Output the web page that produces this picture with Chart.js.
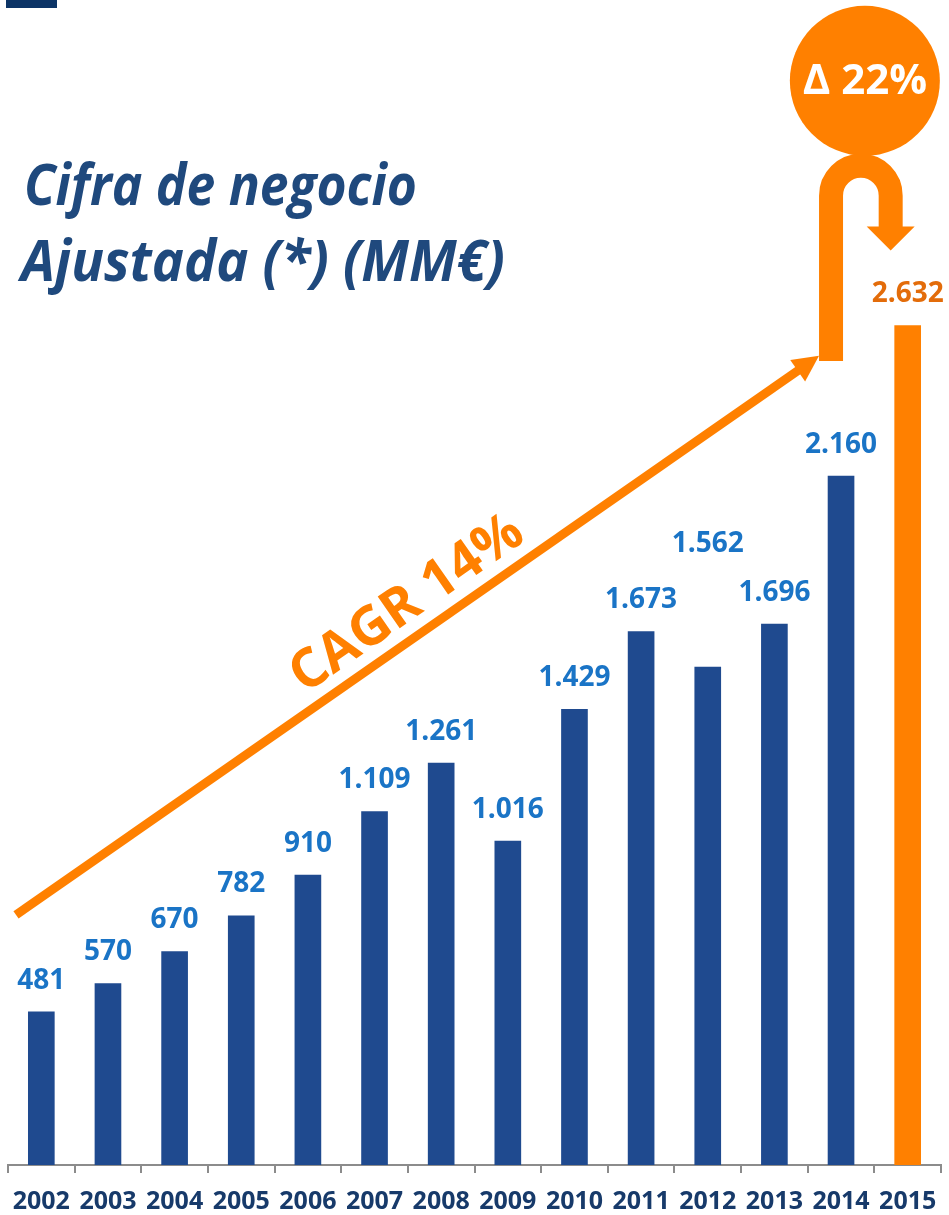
<!DOCTYPE html>
<html>
<head>
<meta charset="utf-8">
<script src="https://cdn.jsdelivr.net/npm/chart.js@4/dist/chart.umd.min.js"></script>
<style>
  html, body { margin: 0; padding: 0; background: #fff; }
  #wrap { width: 949px; height: 1215px; position: relative; }
</style>
</head>
<body>
<div id="wrap"><canvas id="chartVentas"></canvas></div>
<script>
const years = ['2002', '2003', '2004', '2005', '2006', '2007', '2008', '2009', '2010', '2011', '2012', '2013', '2014', '2015'];
const ventas = [481, 570, 670, 782, 910, 1109, 1261, 1016, 1429, 1673, 1562, 1696, 2160, 2632];
const titleLines = ['Cifra de negocio', 'Ajustada (*) (MM€)'];
const cagrText = 'CAGR 14%';
const deltaText = 'Δ 22%';

const BLUE = '#1f4a8f';
const ORANGE = '#ff8000';
const FONT = '"Open Sans", "DejaVu Sans", sans-serif';

// miles con punto, como en el original
const fmt = v => String(v).replace(/\B(?=(\d{3})+(?!\d))/g, '.');

const decoPlugin = {
  id: 'deco',
  afterDatasetsDraw(chart) {
    const ctx = chart.ctx;
    const xs = chart.scales.x, ys = chart.scales.y;
    const area = chart.chartArea;
    const bars = chart.getDatasetMeta(0).data;

    // etiquetas de valor
    ctx.save();
    ctx.font = 'bold 28px ' + FONT;
    ctx.textAlign = 'center';
    ctx.textBaseline = 'middle';
    bars.forEach((bar, i) => {
      let y = bar.y - 31;
      if (years[i] === '2012') y -= 92; // etiqueta desplazada hacia arriba en el original
      ctx.fillStyle = years[i] === '2015' ? '#e36c0a' : '#1a74c6';
      ctx.fillText(fmt(ventas[i]), bar.x, y);
    });
    ctx.restore();

    // flecha CAGR
    const x0 = area.left + 8, y0 = ys.getPixelForValue(784);
    const x1 = xs.getPixelForValue(12) - 22, y1 = ys.getPixelForValue(2536);
    const ang = Math.atan2(y1 - y0, x1 - x0);
    const headLen = 26, headW = 13;
    ctx.save();
    ctx.strokeStyle = ORANGE;
    ctx.fillStyle = ORANGE;
    ctx.lineWidth = 9;
    ctx.beginPath();
    ctx.moveTo(x0, y0);
    ctx.lineTo(x1 - Math.cos(ang) * (headLen - 2), y1 - Math.sin(ang) * (headLen - 2));
    ctx.stroke();
    ctx.translate(x1, y1);
    ctx.rotate(ang);
    ctx.beginPath();
    ctx.moveTo(0, 0);
    ctx.lineTo(-headLen, -headW);
    ctx.lineTo(-headLen, headW);
    ctx.closePath();
    ctx.fill();
    ctx.restore();

    // texto CAGR sobre la flecha
    const tx = 314, t = (tx - x0) / (x1 - x0);
    const px = x0 + (x1 - x0) * t, py = y0 + (y1 - y0) * t;
    ctx.save();
    ctx.translate(px, py);
    ctx.rotate(ang);
    ctx.font = 'bold 54px ' + FONT;
    ctx.fillStyle = ORANGE;
    ctx.textAlign = 'left';
    ctx.textBaseline = 'alphabetic';
    ctx.fillText(cagrText, 0, -16);
    ctx.restore();

    // flecha en U hacia 2015
    const lx = xs.getPixelForValue(12) - 10;
    const rx = xs.getPixelForValue(13) - 17;
    const cx = (lx + rx) / 2, r = (rx - lx) / 2;
    const legBottom = ys.getPixelForValue(2520);
    const archY = ys.getPixelForValue(3038);
    const rightEnd = ys.getPixelForValue(2938);
    const tipY = ys.getPixelForValue(2866);
    ctx.save();
    ctx.strokeStyle = ORANGE;
    ctx.fillStyle = ORANGE;
    ctx.lineWidth = 24;
    ctx.lineCap = 'butt';
    ctx.beginPath();
    ctx.moveTo(lx, legBottom);
    ctx.lineTo(lx, archY);
    ctx.arc(cx, archY, r, Math.PI, 0);
    ctx.lineTo(rx, rightEnd);
    ctx.stroke();
    ctx.beginPath();
    ctx.moveTo(rx - 24, rightEnd - 1);
    ctx.lineTo(rx + 24, rightEnd - 1);
    ctx.lineTo(rx, tipY);
    ctx.closePath();
    ctx.fill();

    // circulo delta
    const ccx = cx + 4, ccy = ys.getPixelForValue(3398);
    ctx.beginPath();
    ctx.arc(ccx, ccy, 75, 0, Math.PI * 2);
    ctx.fill();
    ctx.fillStyle = '#ffffff';
    ctx.font = 'bold 42px ' + FONT;
    ctx.textAlign = 'center';
    ctx.textBaseline = 'middle';
    ctx.fillText(deltaText, ccx, ccy + 1);
    ctx.restore();

    // titulo (cada linea ajustada al ancho del original)
    ctx.save();
    ctx.font = 'italic bold 58px ' + FONT;
    ctx.fillStyle = '#1f497d';
    ctx.textBaseline = 'alphabetic';
    const s1 = 393 / ctx.measureText(titleLines[0]).width;
    const s2 = 484 / ctx.measureText(titleLines[1]).width;
    ctx.setTransform(s1, 0, 0, 1, 24, 0);
    ctx.fillText(titleLines[0], 0, 205);
    ctx.setTransform(s2, 0, 0, 1, 21, 0);
    ctx.fillText(titleLines[1], 0, 281);
    ctx.restore();

    // marca superior izquierda
    ctx.save();
    ctx.fillStyle = '#0c3466';
    ctx.fillRect(6, 0, 51, 8);
    ctx.restore();
  }
};

const ctx = document.getElementById('chartVentas').getContext('2d');
const chart = new Chart(ctx, {
  type: 'bar',
  data: {
    labels: years,
    datasets: [{
      data: ventas,
      backgroundColor: years.map(y => y === '2015' ? ORANGE : BLUE),
      categoryPercentage: 1,
      barPercentage: 0.4
    }]
  },
  options: {
    responsive: true,
    maintainAspectRatio: false,
    animation: false,
    layout: { padding: { top: 10, left: 8, right: 8, bottom: -16 } },
    plugins: { legend: { display: false }, tooltip: { enabled: false } },
    scales: {
      x: {
        grid: { display: true, drawOnChartArea: false, offset: true, tickLength: 8, color: '#8c8c8c', lineWidth: 2 },
        border: { color: '#8c8c8c', width: 2 },
        ticks: { color: '#173a6a', font: { family: FONT, weight: 'bold', size: 25, lineHeight: 2.08 }, padding: 3, maxRotation: 0, autoSkip: false }
      },
      y: { display: false, min: 0, max: 3620 }
    }
  },
  plugins: [decoPlugin]
});
</script>
</body>
</html>
